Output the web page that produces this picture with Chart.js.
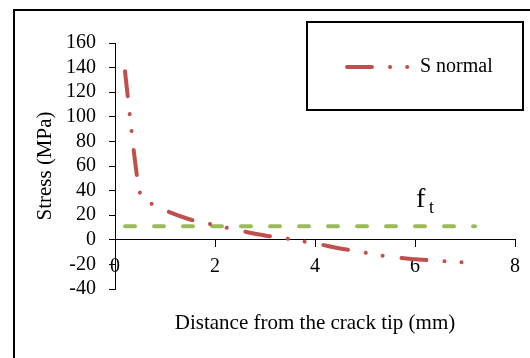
<!DOCTYPE html>
<html>
<head>
<meta charset="utf-8">
<script src="https://cdn.jsdelivr.net/npm/chart.js@4.4.1/dist/chart.umd.min.js"></script>
<style>
  html, body { margin: 0; padding: 0; background: #fff; overflow: hidden; }
  #wrap { width: 530px; height: 358px; position: relative; }
</style>
</head>
<body>
<div id="wrap"><canvas id="stressChart" width="530" height="358"></canvas></div>
<script>
// S normal curve (distance mm, stress MPa)
const distS = [0.2, 0.3, 0.4, 0.5, 0.7, 1.0, 1.5, 2.0, 2.5, 3.0, 3.5, 4.0, 4.5, 5.0, 5.5, 6.0, 6.5, 7.0];
const stressS = [137, 100, 64, 38, 30, 24, 16.5, 12, 7.5, 3.5, 0.5, -3, -7, -10.5, -13.8, -15.8, -17.2, -18.4];

// tensile strength line f_t
const distFt = [0.2, 7.2];
const stressFt = [11, 11];

// label anchor for "f_t" (data units)
const ftLabelX = 6.1;
const ftLabelY = 32;

const xTicks = [0, 2, 4, 6, 8];
const yTicks = [-40, -20, 0, 20, 40, 60, 80, 100, 120, 140, 160];

const serif = "'Liberation Serif', 'Times New Roman', serif";
const red = "#C0504D";
const green = "#9BBB59";

let sPoints = distS.map((x, i) => ({ x: x, y: stressS[i] }));
let ftPoints = distFt.map((x, i) => ({ x: x, y: stressFt[i] }));

// frame, legend box and f_t label
const extras = {
  id: "extras",
  afterDraw(chart) {
    const ctx = chart.ctx;
    const xs = chart.scales.x;
    const ys = chart.scales.y;
    ctx.save();
    // outer frame
    ctx.strokeStyle = "#000";
    ctx.lineWidth = 2;
    ctx.beginPath();
    ctx.moveTo(14, 400);
    ctx.lineTo(14, 10);
    ctx.lineTo(540, 10);
    ctx.stroke();

    // legend box
    ctx.strokeRect(307, 22, 216, 88);
    const ds = chart.data.datasets[0];
    ctx.strokeStyle = ds.borderColor;
    ctx.lineWidth = ds.borderWidth;
    ctx.lineCap = "round";
    ctx.setLineDash(ds.borderDash);
    ctx.beginPath();
    ctx.moveTo(347, 67);
    ctx.lineTo(410, 67);
    ctx.stroke();
    ctx.setLineDash([]);
    ctx.fillStyle = "#000";
    ctx.font = "20px " + serif;
    ctx.textBaseline = "middle";
    ctx.textAlign = "left";
    ctx.fillText(ds.label, 420, 67);

    // f_t label
    const px = xs.getPixelForValue(ftLabelX);
    const py = ys.getPixelForValue(ftLabelY);
    ctx.textBaseline = "alphabetic";
    ctx.font = "28px " + serif;
    ctx.fillText("f", px - 4, py + 7);
    ctx.font = "18px " + serif;
    ctx.fillText("t", px + 9, py + 13);
    ctx.restore();
  },
};

let chartData = {
  datasets: [
    {
      label: "S normal",
      data: sPoints,
      showLine: true,
      borderColor: red,
      borderWidth: 4,
      borderDash: [25, 18, 0.1, 17, 0.1, 19],
      borderCapStyle: "round",
      cubicInterpolationMode: "monotone",
      pointRadius: 0,
      fill: false,
    },
    {
      label: "f_t",
      data: ftPoints,
      showLine: true,
      borderColor: green,
      borderWidth: 4,
      borderDash: [10, 19],
      borderCapStyle: "round",
      pointRadius: 0,
      fill: false,
    },
  ],
};

let options = {
  responsive: false,
  animation: false,
  layout: { padding: { top: 43, right: 15, bottom: 69, left: 0 } },
  plugins: {
    legend: { display: false },
    tooltip: { enabled: false },
  },
  scales: {
    x: {
      type: "linear",
      position: { y: 0 },
      min: 0,
      max: 8,
      afterBuildTicks: (scale) => {
        scale.ticks = xTicks.map((v) => ({ value: v }));
      },
      grid: { drawOnChartArea: false, drawTicks: true, tickLength: 7, color: "#000" },
      border: { display: true, color: "#000", width: 1 },
      ticks: { color: "#000", font: { family: serif, size: 20 }, padding: 8, maxRotation: 0, autoSkip: false },
      title: {
        display: true,
        text: "Distance from the crack tip (mm)",
        color: "#000",
        font: { family: serif, size: 21 },
        padding: { top: 24 },
      },
    },
    y: {
      type: "linear",
      position: "left",
      min: -40,
      max: 160,
      afterBuildTicks: (scale) => {
        scale.ticks = yTicks.map((v) => ({ value: v }));
      },
      afterFit: (scale) => {
        scale.width = 115;
      },
      grid: { drawOnChartArea: false, drawTicks: true, tickLength: 6, color: "#000" },
      border: { display: true, color: "#000", width: 1 },
      ticks: { color: "#000", font: { family: serif, size: 20 }, padding: 13, autoSkip: false },
      title: {
        display: true,
        text: "Stress (MPa)",
        color: "#000",
        font: { family: serif, size: 21 },
        padding: { top: 33 },
      },
    },
  },
};

var ctx = document.getElementById("stressChart").getContext("2d");
var myChart = new Chart(ctx, {
  type: "scatter",
  data: chartData,
  options: options,
  plugins: [extras],
});
</script>
</body>
</html>
